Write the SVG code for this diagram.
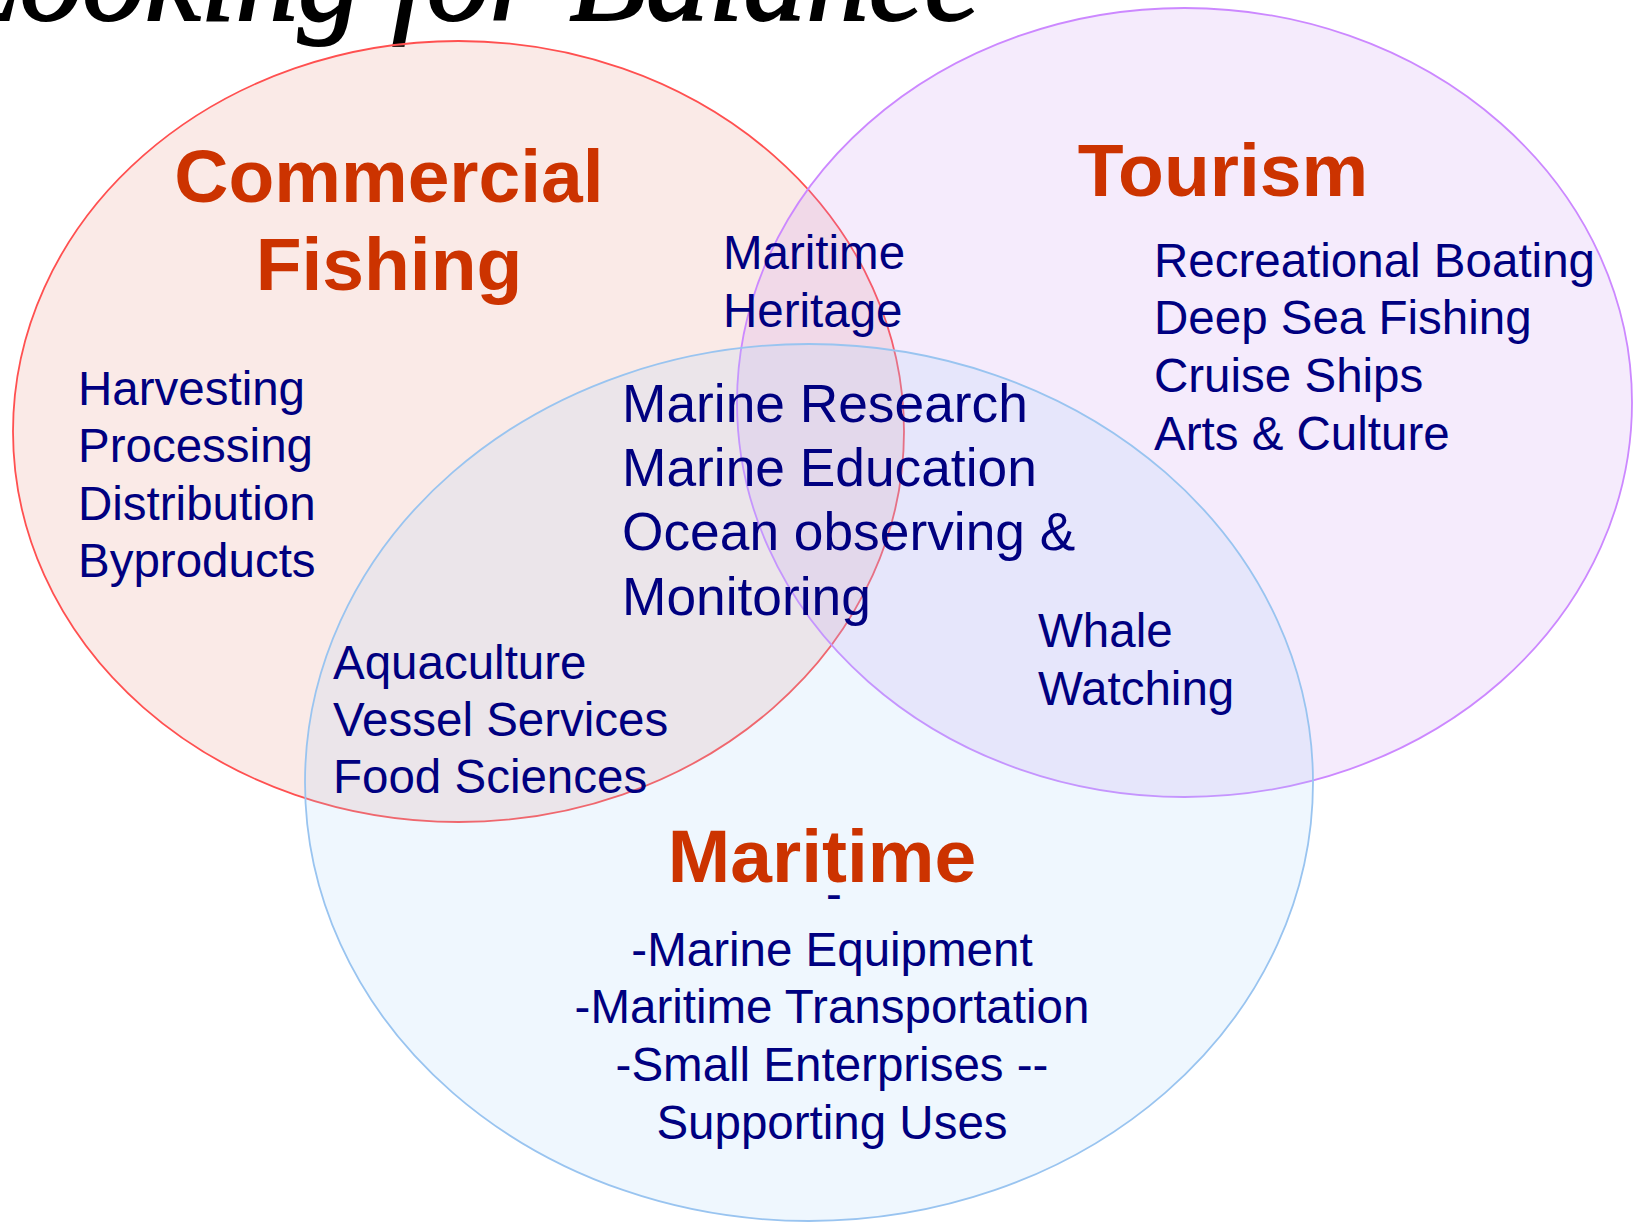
<svg xmlns="http://www.w3.org/2000/svg" width="1637" height="1222" viewBox="0 0 1637 1222">
<style>
.head{font-family:"Liberation Sans",Arial,sans-serif;font-weight:bold;font-size:75px;fill:#cc3300}
.body{font-family:"Liberation Sans",Arial,sans-serif;font-size:47.5px;fill:#000080}
.big{font-family:"Liberation Sans",Arial,sans-serif;font-size:53.3px;fill:#000080}
.title{font-family:"Liberation Serif","DejaVu Serif",serif;font-style:italic;font-size:120px;fill:#000;stroke:#000;stroke-width:2}
</style>
<rect width="1637" height="1222" fill="#fff"/>
<g id="title"><text class="title" x="-50" y="20" textLength="1030" lengthAdjust="spacingAndGlyphs">Looking for Balance</text></g>
<g id="commercial-fishing">
<ellipse cx="458.5" cy="431.5" rx="445.5" ry="390.5" fill="#e8a090" fill-opacity="0.22" stroke="#ff5050" stroke-width="1.8"/>
</g>
<g id="tourism">
<ellipse cx="1184.5" cy="402.5" rx="447.5" ry="394.5" fill="#c890f0" fill-opacity="0.18" stroke="#cc88ff" stroke-width="1.8"/>
</g>
<g id="maritime">
<ellipse cx="809" cy="782.5" rx="504" ry="438.5" fill="#a8d0f8" fill-opacity="0.18" stroke="#99c4f0" stroke-width="1.8"/>
</g>
<g id="connectors"></g>
<g id="labels">
<text class="head" x="389" y="202" text-anchor="middle">Commercial</text>
<text class="head" x="389" y="290" text-anchor="middle">Fishing</text>
<text class="head" x="1223" y="196" text-anchor="middle">Tourism</text>
<text class="head" x="822" y="882" text-anchor="middle">Maritime</text>
<text class="body" x="78" y="405">Harvesting</text>
<text class="body" x="78" y="462">Processing</text>
<text class="body" x="78" y="520">Distribution</text>
<text class="body" x="78" y="577">Byproducts</text>
<text class="body" x="723" y="269">Maritime</text>
<text class="body" x="723" y="327">Heritage</text>
<text class="big" x="622" y="422">Marine Research</text>
<text class="big" x="622" y="486">Marine Education</text>
<text class="big" x="622" y="550">Ocean observing &amp;</text>
<text class="big" x="622" y="615">Monitoring</text>
<text class="body" x="1154" y="277">Recreational Boating</text>
<text class="body" x="1154" y="334">Deep Sea Fishing</text>
<text class="body" x="1154" y="392">Cruise Ships</text>
<text class="body" x="1154" y="450">Arts &amp; Culture</text>
<text class="body" x="1038" y="647">Whale</text>
<text class="body" x="1038" y="705">Watching</text>
<text class="body" x="333" y="679">Aquaculture</text>
<text class="body" x="333" y="736">Vessel Services</text>
<text class="body" x="333" y="793">Food Sciences</text>
<text class="body" x="826" y="910">-</text>
<text class="body" x="832" y="966" text-anchor="middle">-Marine Equipment</text>
<text class="body" x="832" y="1023" text-anchor="middle">-Maritime Transportation</text>
<text class="body" x="832" y="1081" text-anchor="middle">-Small Enterprises --</text>
<text class="body" x="832" y="1139" text-anchor="middle">Supporting Uses</text>
</g>
</svg>
